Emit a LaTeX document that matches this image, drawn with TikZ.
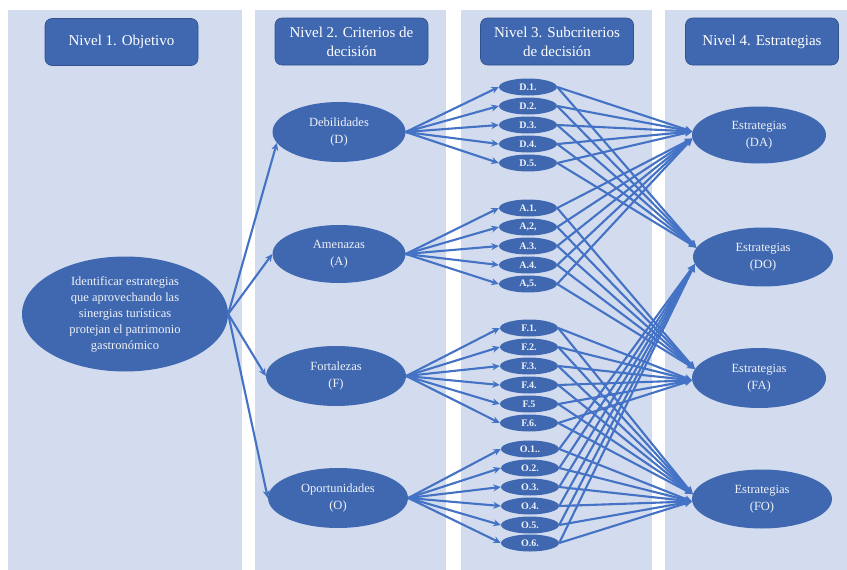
\documentclass[tikz,border=0pt]{standalone}
\usepackage{fontspec}
\setmainfont{Liberation Serif}
\usetikzlibrary{arrows.meta,shapes.geometric}
\definecolor{panelc}{HTML}{D2DCEE}
\definecolor{nodec}{HTML}{4068B0}
\definecolor{edgec}{HTML}{2F528F}
\definecolor{linec}{HTML}{4472C4}
\definecolor{txtc}{HTML}{EEF1F8}
\begin{document}
\begin{tikzpicture}[x=1pt,y=-1pt,
 panel/.style={fill=panelc,draw=none},
 header/.style={draw=edgec,line width=0.6pt,fill=nodec,rounded corners=7pt,text=white,font=\fontsize{15}{19}\selectfont,align=center,minimum width=153pt,minimum height=47pt,inner sep=2pt},
 bigell/.style={ellipse,fill=nodec,draw=none,text=txtc,font=\fontsize{12.5}{17}\selectfont,align=center,inner sep=0pt},
 subell/.style={ellipse,fill=nodec,draw=none,text=txtc,font=\bfseries\fontsize{10}{11}\selectfont,minimum width=58pt,minimum height=17pt,inner sep=0pt},
 arr/.style={draw=linec,line width=2.1pt,-{Stealth[length=7.5pt,width=7pt]}}
]
\useasboundingbox (0,0) rectangle (847,570);
% panels
\fill[panel] (8,10) rectangle (242,570);
\fill[panel] (255,10) rectangle (446,570);
\fill[panel] (461,10) rectangle (652,570);
\fill[panel] (665,10) rectangle (847,570);
% headers
\node[header] (h1) at (121.5,42) {Nivel 1. Objetivo};
\node[header] (h2) at (351.5,41.5) {Nivel 2. Criterios de\\decisión};
\node[header] (h3) at (557,41.5) {Nivel 3. Subcriterios\\de decisión};
\node[header] (h4) at (762,41.5) {Nivel 4. Estrategias};
% objective
\node[bigell,minimum width=206pt,minimum height=115pt,font=\fontsize{12.5}{16}\selectfont] (obj) at (125,314)
 {Identificar estrategias\\que aprovechando las\\sinergias turísticas\\protejan el patrimonio\\gastronómico};
% level 2
\node[bigell,minimum width=133pt,minimum height=60pt] (D) at (339,132) {Debilidades\\(D)};
\node[bigell,minimum width=133pt,minimum height=58pt] (A) at (339,254) {Amenazas\\(A)};
\node[bigell,minimum width=140pt,minimum height=60pt] (F) at (336,376) {Fortalezas\\(F)};
\node[bigell,minimum width=140pt,minimum height=60pt] (O) at (338,498) {Oportunidades\\(O)};
% level 3
\node[subell] (d1) at (528,87) {D.1.};
\node[subell] (d2) at (528,106) {D.2.};
\node[subell] (d3) at (528,125) {D.3.};
\node[subell] (d4) at (528,144) {D.4.};
\node[subell] (d5) at (528,163) {D.5.};
\node[subell] (a1) at (528,208) {A.1.};
\node[subell] (a2) at (528,227) {A,2,};
\node[subell] (a3) at (528,246) {A.3.};
\node[subell] (a4) at (528,265) {A.4.};
\node[subell] (a5) at (528,284) {A,5.};
\node[subell] (f1) at (529,328) {F.1.};
\node[subell] (f2) at (529,347) {F.2.};
\node[subell] (f3) at (529,366) {F.3.};
\node[subell] (f4) at (529,385) {F.4.};
\node[subell] (f5) at (529,404) {F.5};
\node[subell] (f6) at (529,423) {F.6.};
\node[subell] (o1) at (530,449) {O.1..};
\node[subell] (o2) at (530,468) {O.2.};
\node[subell] (o3) at (530,487) {O.3.};
\node[subell] (o4) at (530,506) {O.4.};
\node[subell] (o5) at (530,525) {O.5.};
\node[subell] (o6) at (530,543) {O.6.};
% level 4
\node[bigell,minimum width=134pt,minimum height=57pt] (DA) at (759,135) {Estrategias\\(DA)};
\node[bigell,minimum width=140pt,minimum height=59pt] (DO) at (763,257) {Estrategias\\(DO)};
\node[bigell,minimum width=134pt,minimum height=60pt] (FA) at (759,378) {Estrategias\\(FA)};
\node[bigell,minimum width=140pt,minimum height=59pt] (FO) at (762,499) {Estrategias\\(FO)};
% level 1 -> level 2
\draw[arr] (obj.east) -- (D.190);
\draw[arr] (obj.east) -- (A.west);
\draw[arr] (obj.east) -- (F.west);
\draw[arr] (obj.east) -- (O.west);
% level 2 -> level 3
\foreach \i in {1,...,5} {\draw[arr] (D.east) -- (d\i.west);}
\foreach \i in {1,...,5} {\draw[arr] (A.east) -- (a\i.west);}
\foreach \i in {1,...,6} {\draw[arr] (F.east) -- (f\i.west);}
\foreach \i in {1,...,6} {\draw[arr] (O.east) -- (o\i.west);}
% level 3 -> level 4
\foreach \i in {1,...,5} {\draw[arr] (d\i.east) -- (DA.177); \draw[arr] (d\i.east) -- (DO.172);}
\foreach \i in {1,...,5} {\draw[arr] (a\i.east) -- (DA.183); \draw[arr] (a\i.east) -- (FA.172);}
\foreach \i in {1,...,6} {\draw[arr] (f\i.east) -- (FA.182); \draw[arr] (f\i.east) -- (FO.176);}
\foreach \i in {1,...,6} {\draw[arr] (o\i.east) -- (DO.186); \draw[arr] (o\i.east) -- (FO.182);}
\end{tikzpicture}
\end{document}
